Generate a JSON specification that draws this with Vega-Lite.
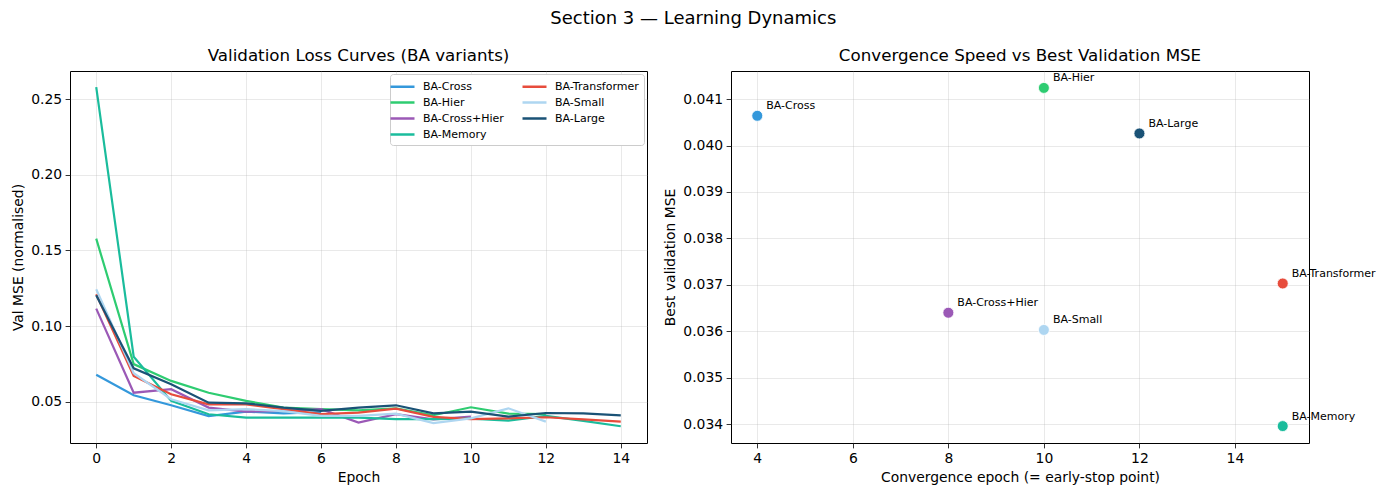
{
  "$schema": "https://vega.github.io/schema/vega-lite/v6.json",
  "background": "white",
  "padding": {"left": 10, "top": 9, "right": 77, "bottom": 4},
  "title": {
    "text": "Section 3 — Learning Dynamics",
    "fontSize": 18,
    "fontWeight": "normal",
    "font": "DejaVu Sans",
    "color": "black",
    "anchor": "middle",
    "offset": 20
  },
  "config": {
    "font": "DejaVu Sans",
    "view": {"stroke": "black", "strokeWidth": 1},
    "axis": {
      "domain": false,
      "grid": true,
      "gridColor": "#b0b0b0",
      "gridOpacity": 0.35,
      "gridWidth": 0.8,
      "ticks": true,
      "tickColor": "black",
      "tickSize": 4.9,
      "tickWidth": 0.8,
      "labelFont": "DejaVu Sans",
      "labelFontSize": 13.9,
      "labelColor": "black",
      "labelPadding": 3.5,
      "labelFlush": false,
      "labelOverlap": false,
      "titleFont": "DejaVu Sans",
      "titleFontSize": 13.9,
      "titleFontWeight": "normal",
      "titleColor": "black",
      "titlePadding": 5.6
    },
    "title": {"font": "DejaVu Sans", "fontSize": 16.7, "fontWeight": "normal", "color": "black", "offset": 6},
    "legend": {
      "title": null,
      "orient": "top-right",
      "offset": 3,
      "columns": 2,
      "symbolType": "M-2,0H2",
      "symbolStrokeWidth": 2.5,
      "symbolSize": 144,
      "labelFont": "DejaVu Sans",
      "labelFontSize": 11,
      "labelColor": "black",
      "labelOffset": 13,
      "columnPadding": 13,
      "rowPadding": 3,
      "padding": 5,
      "fillColor": "white",
      "strokeColor": "#cccccc",
      "strokeWidth": 1,
      "cornerRadius": 3
    }
  },
  "datasets": {
    "curves": [
      {"model": "BA-Cross", "epoch": 0, "mse": 0.0680},
      {"model": "BA-Cross", "epoch": 1, "mse": 0.0544},
      {"model": "BA-Cross", "epoch": 2, "mse": 0.0478},
      {"model": "BA-Cross", "epoch": 3, "mse": 0.04064},
      {"model": "BA-Cross", "epoch": 4, "mse": 0.0436},
      {"model": "BA-Cross", "epoch": 5, "mse": 0.0425},
      {"model": "BA-Cross", "epoch": 6, "mse": 0.0432},
      {"model": "BA-Hier", "epoch": 0, "mse": 0.1578},
      {"model": "BA-Hier", "epoch": 1, "mse": 0.0750},
      {"model": "BA-Hier", "epoch": 2, "mse": 0.0639},
      {"model": "BA-Hier", "epoch": 3, "mse": 0.0561},
      {"model": "BA-Hier", "epoch": 4, "mse": 0.0507},
      {"model": "BA-Hier", "epoch": 5, "mse": 0.0463},
      {"model": "BA-Hier", "epoch": 6, "mse": 0.0452},
      {"model": "BA-Hier", "epoch": 7, "mse": 0.0445},
      {"model": "BA-Hier", "epoch": 8, "mse": 0.0458},
      {"model": "BA-Hier", "epoch": 9, "mse": 0.04124},
      {"model": "BA-Hier", "epoch": 10, "mse": 0.0465},
      {"model": "BA-Hier", "epoch": 11, "mse": 0.0423},
      {"model": "BA-Hier", "epoch": 12, "mse": 0.0420},
      {"model": "BA-Cross+Hier", "epoch": 0, "mse": 0.1116},
      {"model": "BA-Cross+Hier", "epoch": 1, "mse": 0.0561},
      {"model": "BA-Cross+Hier", "epoch": 2, "mse": 0.0584},
      {"model": "BA-Cross+Hier", "epoch": 3, "mse": 0.0463},
      {"model": "BA-Cross+Hier", "epoch": 4, "mse": 0.0436},
      {"model": "BA-Cross+Hier", "epoch": 5, "mse": 0.0441},
      {"model": "BA-Cross+Hier", "epoch": 6, "mse": 0.0452},
      {"model": "BA-Cross+Hier", "epoch": 7, "mse": 0.0364},
      {"model": "BA-Cross+Hier", "epoch": 8, "mse": 0.0419},
      {"model": "BA-Cross+Hier", "epoch": 9, "mse": 0.0385},
      {"model": "BA-Cross+Hier", "epoch": 10, "mse": 0.0403},
      {"model": "BA-Memory", "epoch": 0, "mse": 0.2579},
      {"model": "BA-Memory", "epoch": 1, "mse": 0.0799},
      {"model": "BA-Memory", "epoch": 2, "mse": 0.0507},
      {"model": "BA-Memory", "epoch": 3, "mse": 0.0419},
      {"model": "BA-Memory", "epoch": 4, "mse": 0.0396},
      {"model": "BA-Memory", "epoch": 5, "mse": 0.0396},
      {"model": "BA-Memory", "epoch": 6, "mse": 0.0396},
      {"model": "BA-Memory", "epoch": 7, "mse": 0.0396},
      {"model": "BA-Memory", "epoch": 8, "mse": 0.0386},
      {"model": "BA-Memory", "epoch": 9, "mse": 0.0386},
      {"model": "BA-Memory", "epoch": 10, "mse": 0.0390},
      {"model": "BA-Memory", "epoch": 11, "mse": 0.0377},
      {"model": "BA-Memory", "epoch": 12, "mse": 0.0408},
      {"model": "BA-Memory", "epoch": 13, "mse": 0.0375},
      {"model": "BA-Memory", "epoch": 14, "mse": 0.03396},
      {"model": "BA-Transformer", "epoch": 0, "mse": 0.1211},
      {"model": "BA-Transformer", "epoch": 1, "mse": 0.0672},
      {"model": "BA-Transformer", "epoch": 2, "mse": 0.0551},
      {"model": "BA-Transformer", "epoch": 3, "mse": 0.0484},
      {"model": "BA-Transformer", "epoch": 4, "mse": 0.0484},
      {"model": "BA-Transformer", "epoch": 5, "mse": 0.0452},
      {"model": "BA-Transformer", "epoch": 6, "mse": 0.0420},
      {"model": "BA-Transformer", "epoch": 7, "mse": 0.0430},
      {"model": "BA-Transformer", "epoch": 8, "mse": 0.0456},
      {"model": "BA-Transformer", "epoch": 9, "mse": 0.0401},
      {"model": "BA-Transformer", "epoch": 10, "mse": 0.0386},
      {"model": "BA-Transformer", "epoch": 11, "mse": 0.0392},
      {"model": "BA-Transformer", "epoch": 12, "mse": 0.0399},
      {"model": "BA-Transformer", "epoch": 13, "mse": 0.0385},
      {"model": "BA-Transformer", "epoch": 14, "mse": 0.03703},
      {"model": "BA-Small", "epoch": 0, "mse": 0.1244},
      {"model": "BA-Small", "epoch": 1, "mse": 0.0690},
      {"model": "BA-Small", "epoch": 2, "mse": 0.0518},
      {"model": "BA-Small", "epoch": 3, "mse": 0.0445},
      {"model": "BA-Small", "epoch": 4, "mse": 0.0452},
      {"model": "BA-Small", "epoch": 5, "mse": 0.0440},
      {"model": "BA-Small", "epoch": 6, "mse": 0.0408},
      {"model": "BA-Small", "epoch": 7, "mse": 0.0408},
      {"model": "BA-Small", "epoch": 8, "mse": 0.0423},
      {"model": "BA-Small", "epoch": 9, "mse": 0.03603},
      {"model": "BA-Small", "epoch": 10, "mse": 0.0392},
      {"model": "BA-Small", "epoch": 11, "mse": 0.0458},
      {"model": "BA-Small", "epoch": 12, "mse": 0.0370},
      {"model": "BA-Large", "epoch": 0, "mse": 0.1204},
      {"model": "BA-Large", "epoch": 1, "mse": 0.0722},
      {"model": "BA-Large", "epoch": 2, "mse": 0.0617},
      {"model": "BA-Large", "epoch": 3, "mse": 0.0495},
      {"model": "BA-Large", "epoch": 4, "mse": 0.0491},
      {"model": "BA-Large", "epoch": 5, "mse": 0.0462},
      {"model": "BA-Large", "epoch": 6, "mse": 0.0441},
      {"model": "BA-Large", "epoch": 7, "mse": 0.0462},
      {"model": "BA-Large", "epoch": 8, "mse": 0.0478},
      {"model": "BA-Large", "epoch": 9, "mse": 0.0425},
      {"model": "BA-Large", "epoch": 10, "mse": 0.0436},
      {"model": "BA-Large", "epoch": 11, "mse": 0.04026},
      {"model": "BA-Large", "epoch": 12, "mse": 0.0427},
      {"model": "BA-Large", "epoch": 13, "mse": 0.0425},
      {"model": "BA-Large", "epoch": 14, "mse": 0.0412}
    ],
    "best": [
      {"model": "BA-Cross", "conv_epoch": 4, "best_mse": 0.04064},
      {"model": "BA-Hier", "conv_epoch": 10, "best_mse": 0.04124},
      {"model": "BA-Cross+Hier", "conv_epoch": 8, "best_mse": 0.0364},
      {"model": "BA-Memory", "conv_epoch": 15, "best_mse": 0.03396},
      {"model": "BA-Transformer", "conv_epoch": 15, "best_mse": 0.03703},
      {"model": "BA-Small", "conv_epoch": 10, "best_mse": 0.03603},
      {"model": "BA-Large", "conv_epoch": 12, "best_mse": 0.04026}
    ]
  },
  "spacing": 84,
  "bounds": "flush",
  "resolve": {"scale": {"color": "independent"}, "legend": {"color": "independent"}},
  "hconcat": [
    {
      "title": "Validation Loss Curves (BA variants)",
      "width": 577,
      "height": 372,
      "data": {"name": "curves"},
      "mark": {"type": "line", "strokeWidth": 2.2, "clip": true},
      "encoding": {
        "x": {
          "field": "epoch",
          "type": "quantitative",
          "scale": {"domain": [-0.7, 14.7], "nice": false, "zero": false},
          "axis": {"title": "Epoch", "values": [0, 2, 4, 6, 8, 10, 12, 14], "format": "d"}
        },
        "y": {
          "field": "mse",
          "type": "quantitative",
          "scale": {"domain": [0.0229, 0.2685], "nice": false, "zero": false},
          "axis": {"title": "Val MSE (normalised)", "values": [0.05, 0.1, 0.15, 0.2, 0.25], "format": ".2f"}
        },
        "color": {
          "field": "model",
          "type": "nominal",
          "scale": {
            "domain": ["BA-Cross", "BA-Hier", "BA-Cross+Hier", "BA-Memory", "BA-Transformer", "BA-Small", "BA-Large"],
            "range": ["#3498db", "#2ecc71", "#9b59b6", "#1abc9c", "#e74c3c", "#aed6f1", "#1a5276"]
          },
          "legend": {}
        }
      }
    },
    {
      "title": "Convergence Speed vs Best Validation MSE",
      "width": 578,
      "height": 372,
      "data": {"name": "best"},
      "encoding": {
        "x": {
          "field": "conv_epoch",
          "type": "quantitative",
          "scale": {"domain": [3.45, 15.55], "nice": false, "zero": false},
          "axis": {"title": "Convergence epoch (= early-stop point)", "values": [4, 6, 8, 10, 12, 14], "format": "d"}
        },
        "y": {
          "field": "best_mse",
          "type": "quantitative",
          "scale": {"domain": [0.033596, 0.041604], "nice": false, "zero": false},
          "axis": {"title": "Best validation MSE", "values": [0.034, 0.035, 0.036, 0.037, 0.038, 0.039, 0.04, 0.041], "format": ".3f"}
        }
      },
      "layer": [
        {
          "mark": {"type": "circle", "size": 120, "opacity": 1, "stroke": "white", "strokeWidth": 0.8},
          "encoding": {
            "color": {
              "field": "model",
              "type": "nominal",
              "scale": {
                "domain": ["BA-Cross", "BA-Hier", "BA-Cross+Hier", "BA-Memory", "BA-Transformer", "BA-Small", "BA-Large"],
                "range": ["#3498db", "#2ecc71", "#9b59b6", "#1abc9c", "#e74c3c", "#aed6f1", "#1a5276"]
              },
              "legend": null
            }
          }
        },
        {
          "mark": {"type": "text", "align": "left", "baseline": "middle", "dx": 9, "dy": -9.5, "fontSize": 11, "font": "DejaVu Sans", "color": "black"},
          "encoding": {"text": {"field": "model", "type": "nominal"}}
        }
      ]
    }
  ]
}
